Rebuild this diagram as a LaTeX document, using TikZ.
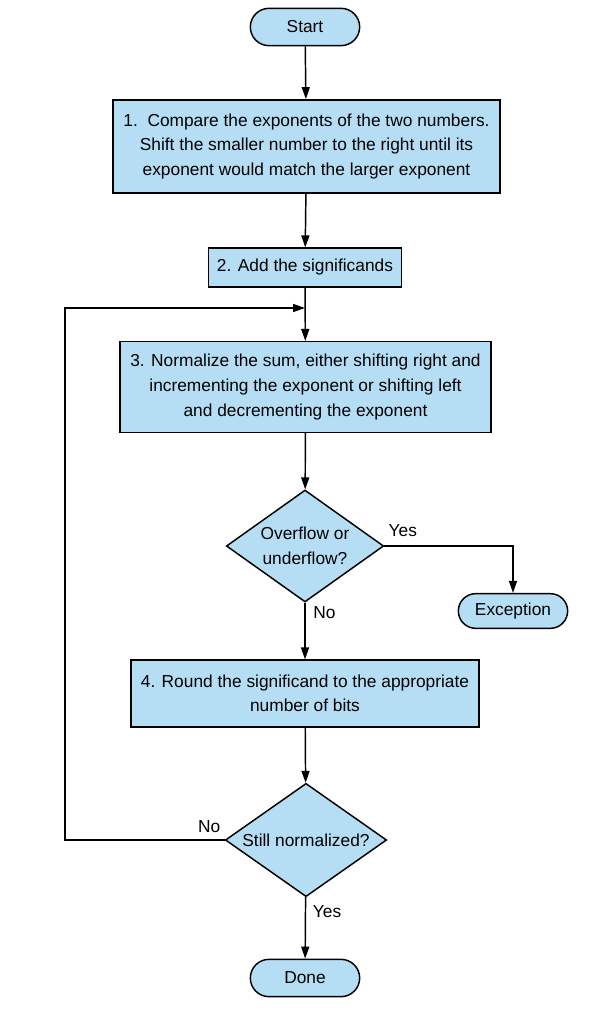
\documentclass[tikz,border=0pt]{standalone}
\usepackage{fontspec}
\setmainfont{Liberation Sans}
\usetikzlibrary{shapes.geometric,shapes.misc,arrows.meta}

\definecolor{boxblue}{RGB}{181,222,245}

\begin{document}
\begin{tikzpicture}[x=0.75pt, y=-0.75pt,
            every node/.style = {font=\fontsize{13pt}{18.4pt}\selectfont, align=center},
            stepbox/.style = {draw, line width=1.1pt, fill=boxblue, rectangle, inner sep=0pt},
            test/.style = {draw, line width=1.1pt, fill=boxblue, diamond, aspect=1.42, inner sep=0pt},
            terminal/.style = {draw, line width=1.1pt, fill=boxblue, rounded rectangle, inner sep=0pt},
            lbl/.style = {inner sep=3pt},
            flow/.style = {line width=1.1pt, -{Triangle[length=9pt,width=6pt]}}]
            \useasboundingbox (0,0) rectangle (598,1034);
            % nodes
            \node[terminal, minimum width=82pt, minimum height=28pt] (start) at (305,27) {Start};
            \node[stepbox, minimum width=290pt, minimum height=70pt] (cmp) at (306.5,146.5)
                {1.\ \ Compare the exponents of the two numbers.\\
                 Shift the smaller number to the right until its\\
                 exponent would match the larger exponent};
            \node[stepbox, minimum width=145pt, minimum height=29pt] (add) at (305,267.5)
                {2. Add the significands};
            \node[stepbox, minimum width=278pt, minimum height=68pt] (norm) at (305.5,387)
                {3. Normalize the sum, either shifting right and\\
                 incrementing the exponent or shifting left\\
                 and decrementing the exponent};
            \node[test, minimum width=118pt, minimum height=84pt] (ovf) at (305,546)
                {Overflow or\\ underflow?};
            \node[terminal, minimum width=82pt, minimum height=26pt] (exc) at (513,611) {Exception};
            \node[stepbox, minimum width=261pt, minimum height=50pt] (rnd) at (305,693.5)
                {4. Round the significand to the appropriate\\ number of bits};
            \node[test, minimum width=121pt, minimum height=85pt] (still) at (306,840)
                {Still normalized?};
            \node[terminal, minimum width=82pt, minimum height=28pt] (done) at (305,978) {Done};
            \coordinate (join) at (305,308);
            \coordinate (back) at (65,308);
            % connectors
            \draw[flow] (start) -- (cmp);
            \draw[flow] (cmp) -- (add);
            \draw[flow] (add) -- (norm);
            \draw[flow] (norm) -- (ovf);
            \draw[flow] (ovf) -- (rnd);
            \draw[flow] (ovf.east) -| (exc.north);
            \draw[flow] (rnd) -- (still);
            \draw[flow] (still) -- (done);
            \draw[flow] (still.west) -- (still.west -| back) -- (back) -- (join);
            % labels
            \node[lbl, anchor=south west, yshift=4pt] (ovfyes) at (ovf.east) {Yes};
            \node[lbl, anchor=north west, xshift=3pt] (ovfno) at (ovf.south) {No};
            \node[lbl, anchor=south east, yshift=2pt] (stillno) at (still.west) {No};
            \node[lbl, anchor=north west, xshift=2pt, yshift=-3pt] (stillyes) at (still.south) {Yes};
\end{tikzpicture}
\end{document}
